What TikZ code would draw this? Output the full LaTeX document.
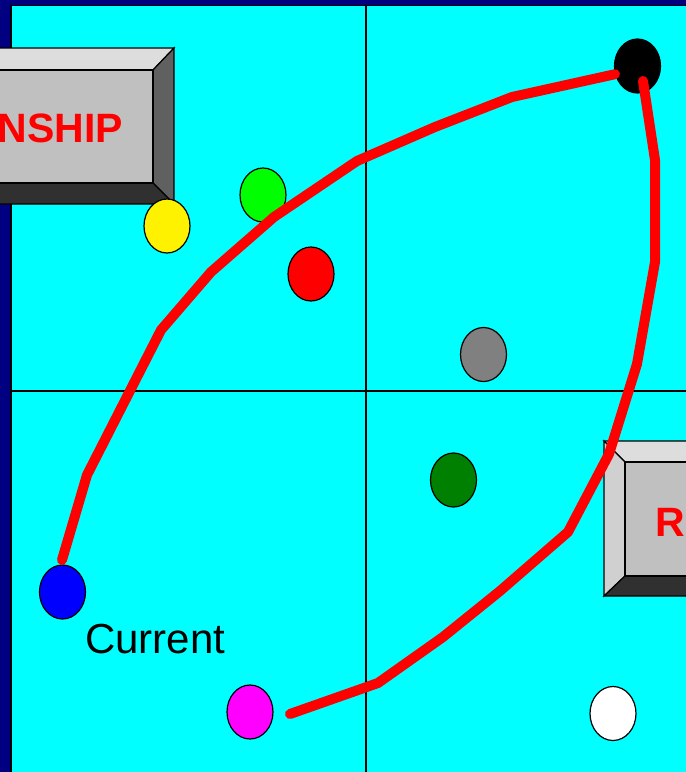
\documentclass[tikz,border=0pt]{standalone}
\usepackage{fontspec}
\setmainfont{Liberation Sans}
\usetikzlibrary{shapes.geometric}
\definecolor{navybg}{HTML}{000080}
\definecolor{cyanbg}{HTML}{00FFFF}
\definecolor{bevlight}{HTML}{DDDDDD}
\definecolor{bevside}{HTML}{D0D0D0}
\definecolor{bevmid}{HTML}{606060}
\definecolor{bevdark}{HTML}{303030}
\definecolor{bevface}{HTML}{C0C0C0}
\definecolor{dotgreen}{HTML}{00FF00}
\definecolor{dotdkgreen}{HTML}{008000}
\definecolor{dotgray}{HTML}{808080}
\definecolor{dotmagenta}{HTML}{FF00FF}
\definecolor{dotblue}{HTML}{0000FF}
\definecolor{dotred}{HTML}{FF0000}
\begin{document}
\begin{tikzpicture}[x=1pt,y=-1pt,
  dot/.style={ellipse,draw=black,line width=1.2pt,minimum width=46pt,minimum height=54pt,inner sep=0pt},
  redpath/.style={draw=red,line width=10pt,line cap=round,line join=round},
  gridline/.style={draw=black,line width=1.5pt},
  bevel/.style={draw=black,line width=1.2pt,line join=miter},
  boxlabel/.style={text=red,inner sep=0pt,font=\fontsize{41}{48}\selectfont\bfseries}]
\useasboundingbox (0,0) rectangle (686,772);
\clip (0,0) rectangle (686,772);
\fill[navybg] (0,0) rectangle (686,772);
\draw[fill=cyanbg,line width=1.2pt] (11,5.5) rectangle (700,790);
% grid
\draw[gridline] (366,5.5) -- (366,780);
\draw[gridline] (11,391) -- (700,391);
% top-left bevel box
\filldraw[bevel,fill=bevlight] (-40,48) -- (174,48) -- (153,70) -- (-20,70) -- cycle;
\filldraw[bevel,fill=bevmid] (174,48) -- (174,204) -- (153,183) -- (153,70) -- cycle;
\filldraw[bevel,fill=bevdark] (-40,204) -- (174,204) -- (153,183) -- (-20,183) -- cycle;
\filldraw[bevel,fill=bevface] (-20,70) rectangle (153,183);
\node[boxlabel,anchor=base east] (lbl1) at (123,142) {NSHIP};
% bottom-right bevel box
\filldraw[bevel,fill=bevlight] (604,441) -- (720,441) -- (700,462) -- (625,462) -- cycle;
\filldraw[bevel,fill=bevside] (604,441) -- (625,462) -- (625,576) -- (604,596) -- cycle;
\filldraw[bevel,fill=bevdark] (604,596) -- (625,576) -- (700,576) -- (720,596) -- cycle;
\filldraw[bevel,fill=bevface] (625,462) rectangle (700,576);
\node[boxlabel,anchor=base west] (lbl2) at (655,536) {R};
% dots
\node[dot,fill=black] (black) at (637.5,66) {};
\node[dot,fill=dotgreen] (green) at (263,195) {};
\node[dot,fill=yellow] (yellow) at (167,226) {};
\node[dot,fill=dotred] (redc) at (311,274) {};
\node[dot,fill=dotgray] (gray) at (483.5,354.5) {};
\node[dot,fill=dotdkgreen] (dkgreen) at (453.5,480) {};
\node[dot,fill=dotblue] (blue) at (62.5,592) {};
\node[dot,fill=dotmagenta] (magenta) at (250,712) {};
\node[dot,fill=white] (white) at (613,713.5) {};
% label
\node[anchor=base west,inner sep=0pt,font=\fontsize{42}{50}\selectfont] (current) at (85,653) {Current};
% red connectors
\coordinate (c1s) at (62,560);
\coordinate (c2s) at (643,81);
\coordinate (c2e) at (290,714);
\draw[redpath] (c1s) -- (87,475) -- (161,330) -- (211,272) -- (274,217) -- (357,161) -- (435,127) -- (512,97) -- (black.200);
\draw[redpath] (c2s) -- (655,160) -- (655,262) -- (637,364) -- (609,454) -- (568,532) -- (500,591) -- (443,637) -- (378,683) -- (c2e);
\end{tikzpicture}
\end{document}
